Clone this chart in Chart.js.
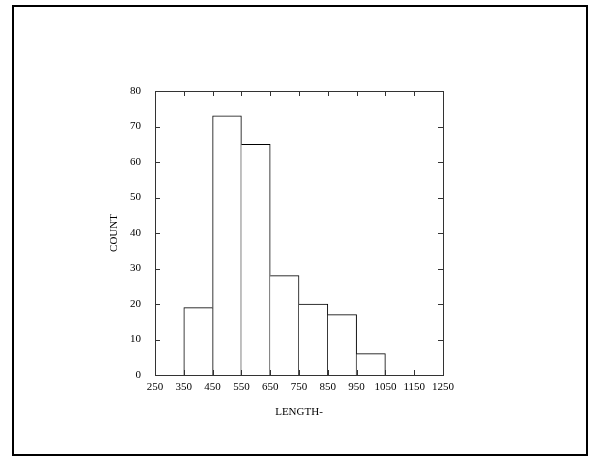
<!DOCTYPE html>
<html>
<head>
<meta charset="utf-8">
<script src="https://cdn.jsdelivr.net/npm/chart.js@4"></script>
<style>
  html, body { margin: 0; padding: 0; background: #fff; }
  canvas { display: block; }
</style>
</head>
<body>
<canvas id="hist" width="596" height="459"></canvas>
<script>
// histogram bins (lower edge of each bin) and the count in each
const binStart = [350, 450, 550, 650, 750, 850, 950];
const binWidth = 100;
const counts = [19, 73, 65, 28, 20, 17, 6];

const xTicks = [250, 350, 450, 550, 650, 750, 850, 950, 1050, 1150, 1250];
const yTicks = [0, 10, 20, 30, 40, 50, 60, 70, 80];

const serif = '"Liberation Serif", "DejaVu Serif", serif';

const punkte = binStart.map((s, i) => ({ x: s + binWidth / 2, y: counts[i] }));

// a boundary line is drawn only by the taller of the two neighbouring bars
function kanten(ctx) {
  const i = ctx.dataIndex;
  const cur = counts[i];
  const prev = counts[i - 1];
  const next = counts[i + 1];
  return {
    top: 1,
    left: prev === undefined || prev <= cur ? 1 : 0,
    right: next === undefined || next < cur ? 1 : 0,
    bottom: 0
  };
}

// outer frame, plot box and inward tick marks on all four sides
const rahmen = {
  id: 'rahmen',
  afterDatasetsDraw(chart) {
    const c = chart.ctx;
    const a = chart.chartArea;
    const xs = chart.scales.x;
    const ys = chart.scales.y;
    const len = 5;
    c.save();
    c.strokeStyle = '#333';
    c.lineWidth = 1;
    c.strokeRect(Math.round(a.left) + 0.5, Math.round(a.top) + 0.5,
      Math.round(a.right - a.left), Math.round(a.bottom - a.top));
    c.beginPath();
    xTicks.forEach((v) => {
      const px = Math.round(xs.getPixelForValue(v)) + 0.5;
      c.moveTo(px, a.bottom); c.lineTo(px, a.bottom - len);
      c.moveTo(px, a.top); c.lineTo(px, a.top + len);
    });
    yTicks.forEach((v) => {
      const py = Math.round(ys.getPixelForValue(v)) + 0.5;
      c.moveTo(a.left, py); c.lineTo(a.left + len, py);
      c.moveTo(a.right, py); c.lineTo(a.right - len, py);
    });
    c.stroke();
    c.restore();
  },
  afterDraw(chart) {
    const c = chart.ctx;
    c.save();
    c.strokeStyle = '#000';
    c.lineWidth = 2;
    c.strokeRect(13, 6, 574, 449);
    c.restore();
  }
};

new Chart(document.getElementById('hist'), {
  type: 'bar',
  data: {
    datasets: [{
      label: 'COUNT',
      data: punkte,
      backgroundColor: '#fff',
      borderColor: '#000',
      borderWidth: kanten,
      borderSkipped: false,
      barPercentage: 1,
      categoryPercentage: 1
    }]
  },
  options: {
    responsive: false,
    animation: false,
    layout: { padding: { left: 100, top: 91, right: 153, bottom: 40 } },
    plugins: {
      legend: { display: false },
      tooltip: { enabled: false }
    },
    scales: {
      x: {
        type: 'linear',
        min: 250,
        max: 1250,
        offset: false,
        afterBuildTicks: (s) => { s.ticks = xTicks.map((v) => ({ value: v })); },
        afterFit: (s) => { s.height = 44; },
        grid: { display: false, offset: false, drawTicks: false },
        border: { display: false },
        ticks: {
          color: '#000',
          padding: 6,
          maxRotation: 0,
          autoSkip: false,
          callback: (v) => String(v),
          font: { family: serif, size: 11 }
        },
        title: {
          display: true,
          text: 'LENGTH-',
          color: '#000',
          padding: { top: 0, bottom: 0 },
          font: { family: serif, size: 11 }
        }
      },
      y: {
        min: 0,
        max: 80,
        afterBuildTicks: (s) => { s.ticks = yTicks.map((v) => ({ value: v })); },
        afterFit: (s) => { s.width = 55; },
        grid: { display: false, drawTicks: false },
        border: { display: false },
        ticks: {
          color: '#000',
          padding: 14,
          callback: (v) => String(v),
          font: { family: serif, size: 11 }
        },
        title: {
          display: true,
          text: 'COUNT',
          color: '#000',
          padding: { top: 8, bottom: 0 },
          font: { family: serif, size: 11 }
        }
      }
    }
  },
  plugins: [rahmen]
});
</script>
</body>
</html>
